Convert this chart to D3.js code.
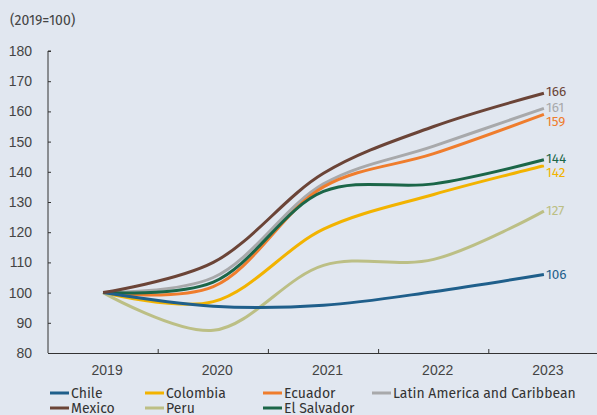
<!DOCTYPE html>
<html>
<head>
<meta charset="utf-8">
<script src="https://cdn.jsdelivr.net/npm/d3@7"></script>
<style>
  body { margin: 0; background: #e1e7f0; }
  svg { display: block; font-family: "Fira Sans", "Noto Sans", sans-serif; }
</style>
</head>
<body>
<svg id="chart"></svg>
<script>
const years = ["2019", "2020", "2021", "2022", "2023"];
const yTicks = [80, 90, 100, 110, 120, 130, 140, 150, 160, 170, 180];

const seriesNames = ["Chile", "Colombia", "Ecuador", "Latin America and Caribbean", "Mexico", "Peru", "El Salvador"];
const chile = [100, 95.5, 95.8, 100.3, 106];
const colombia = [100, 97, 121, 132.5, 142];
const ecuador = [100, 102, 135, 146, 159];
const latam = [100, 105, 136, 148.5, 161];
const mexico = [100, 110, 139.5, 155, 166];
const peru = [100, 87.5, 109, 111, 127];
const elSalvador = [100, 103.5, 133.5, 136, 144];
const seriesColors = ["#1f5f8b", "#f2b300", "#ef7d2d", "#a8a9ab", "#6b4437", "#bcbf85", "#1b6648"];

var seriesValues = [chile, colombia, ecuador, latam, mexico, peru, elSalvador];
var series = seriesNames.map((name, i) => ({ name: name, values: seriesValues[i], color: seriesColors[i] }));

var width = 597, height = 415,
    margin = { top: 51, right: -2, bottom: 62, left: 48 };

var svg = d3.select("#chart")
    .attr("width", width)
    .attr("height", height);

svg.append("rect").attr("width", width).attr("height", height).attr("fill", "#e1e7f0");

var x = d3.scaleBand()
    .domain(years)
    .range([margin.left, width - margin.right]);

var y = d3.scaleLinear()
    .domain([80, 180])
    .range([height - margin.bottom, margin.top]);

// unit label
svg.append("text")
    .attr("x", 10)
    .attr("y", 25)
    .attr("font-size", 14)
    .attr("fill", "#444")
    .text("(2019=100)");

// y axis
var yAxis = svg.append("g")
    .attr("transform", "translate(" + margin.left + ",0)")
    .call(d3.axisRight(y).tickValues(yTicks).tickSize(3).tickFormat(d3.format("d")));
yAxis.select(".domain").attr("stroke", "#333").attr("d", "M3," + y(180) + "H0V" + y(80));
yAxis.selectAll(".tick line").attr("stroke", "#333");
yAxis.selectAll(".tick text")
    .attr("x", -16)
    .attr("text-anchor", "end")
    .attr("font-size", 14)
    .attr("fill", "#444");

// x axis
var xAxis = svg.append("g")
    .attr("transform", "translate(0," + y(80) + ")")
    .call(d3.axisBottom(x).tickSize(0).tickPadding(12));
xAxis.select(".domain").attr("stroke", "#333");
xAxis.selectAll(".tick text")
    .attr("dx", 4)
    .attr("font-size", 14)
    .attr("fill", "#444");
xAxis.selectAll(".boundary")
    .data(years.slice(1))
    .join("line")
    .attr("x1", d => x(d)).attr("x2", d => x(d))
    .attr("y1", 0).attr("y2", -4)
    .attr("stroke", "#333");

// lines
var line = d3.line()
    .x((d, i) => x(years[i]) + x.bandwidth() / 2)
    .y(d => y(d))
    .curve(d3.curveCatmullRom.alpha(0.5));

var drawOrder = [3, 2, 6, 1, 5, 0, 4];
drawOrder.forEach(function (i) {
    var s = series[i];
    svg.append("path")
        .attr("d", line(s.values))
        .attr("fill", "none")
        .attr("stroke", s.color)
        .attr("stroke-width", 3);
});

// end labels
var labelNudge = { "Mexico": -2, "Latin America and Caribbean": -1, "Ecuador": 7, "El Salvador": -1, "Colombia": 7 };
series.forEach(function (s) {
    var last = s.values[s.values.length - 1];
    svg.append("text")
        .attr("x", x(years[years.length - 1]) + x.bandwidth() / 2 + 2)
        .attr("y", y(last) + (labelNudge[s.name] || 0))
        .attr("dy", "0.32em")
        .attr("font-size", 13.5)
        .attr("fill", s.color)
        .text(Math.round(last));
});

// legend
var legendCols = [50, 145, 263, 372];
var legend = svg.append("g");
series.forEach(function (s, i) {
    var row = i < 4 ? 0 : 1,
        col = i < 4 ? i : i - 4,
        lx = legendCols[col],
        ly = 393 + row * 15;
    legend.append("line")
        .attr("x1", lx).attr("x2", lx + 19)
        .attr("y1", ly).attr("y2", ly)
        .attr("stroke", s.color)
        .attr("stroke-width", 3);
    legend.append("text")
        .attr("x", lx + 21)
        .attr("y", ly)
        .attr("dy", "0.35em")
        .attr("font-size", 14)
        .attr("fill", "#333")
        .text(s.name);
});
</script>
</body>
</html>
